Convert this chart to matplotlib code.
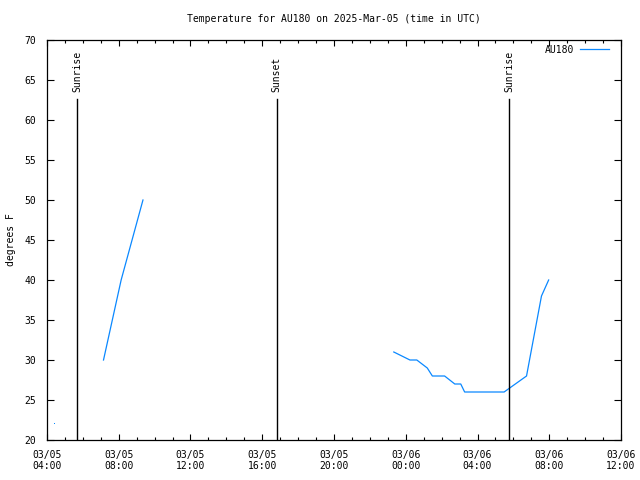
import matplotlib
matplotlib.use("Agg")
import matplotlib.pyplot as plt
import matplotlib.dates as mdates
import numpy as np
import pandas as pd

# temperature readings (UTC), gaps marked with None
times = ["2025-03-05 07:09", "2025-03-05 08:08", "2025-03-05 09:21", None,
         "2025-03-05 23:20", "2025-03-06 00:14", "2025-03-06 00:37", "2025-03-06 01:12",
         "2025-03-06 01:29", "2025-03-06 02:10", "2025-03-06 02:44", "2025-03-06 03:04",
         "2025-03-06 03:17", "2025-03-06 05:29", "2025-03-06 06:44", "2025-03-06 07:34",
         "2025-03-06 07:58"]
temps = [30, 40, 50, None,
         31, 30, 30, 29,
         28, 28, 27, 27,
         26, 26, 28, 38,
         40]
lone_time = ["2025-03-05 04:23"]
lone_temp = [22]

events = ["Sunrise", "Sunset", "Sunrise"]
event_times = ["2025-03-05 05:41", "2025-03-05 16:48", "2025-03-06 05:45"]

x_start = "2025-03-05 04:00"
x_end = "2025-03-06 12:00"

plt.rcParams["font.family"] = "DejaVu Sans Mono"
plt.rcParams["font.size"] = 7

color = "#0a88ff"

fig = plt.figure(figsize=(6.4, 4.8), dpi=100)
ax = fig.add_axes([47 / 640, 40 / 480, 574 / 640, 400 / 480])

# split at the None gap so each segment is drawn on its own
segs = []
cur_t, cur_v = [], []
for s, val in zip(times, temps):
    if s is None:
        segs.append((cur_t, cur_v))
        cur_t, cur_v = [], []
    else:
        cur_t.append(pd.Timestamp(s).to_pydatetime())
        cur_v.append(val)
segs.append((cur_t, cur_v))
for i, (st, sv) in enumerate(segs):
    ax.plot(st, sv, color=color, lw=0.9, label="AU180" if i == 0 else None)
ax.plot([pd.Timestamp(s).to_pydatetime() for s in lone_time], lone_temp, ",", color=color)

for name, et in zip(events, event_times):
    et = pd.Timestamp(et).to_pydatetime()
    ax.plot([et, et], [20, 62.6], color="black", lw=1.0)
    ax.text(et, 63.5, name, rotation=90, ha="center", va="bottom")

ax.set_xlim(pd.Timestamp(x_start).to_pydatetime(), pd.Timestamp(x_end).to_pydatetime())
ax.set_ylim(20, 70)
ax.set_yticks(range(20, 71, 5))

ax.xaxis.set_major_locator(mdates.HourLocator(byhour=range(0, 24, 4)))
ax.xaxis.set_minor_locator(mdates.HourLocator())
ax.xaxis.set_major_formatter(mdates.DateFormatter("%m/%d\n%H:%M"))

ax.tick_params(which="both", direction="in", top=True, right=True, width=0.8)
ax.tick_params(which="major", length=4)
ax.tick_params(which="minor", length=2)
ax.tick_params(axis="x", pad=7)
ax.tick_params(axis="y", pad=8, length=5)
for sp in ax.spines.values():
    sp.set_linewidth(0.9)

ax.set_ylabel("degrees F", labelpad=6)
ax.set_title("Temperature for AU180 on 2025-Mar-05 (time in UTC)", pad=13, fontsize=7)

ax.legend(loc="upper right", bbox_to_anchor=(1 - 7 / 574, 1), frameon=False,
          markerfirst=False, handlelength=3.0, handletextpad=0.6,
          borderaxespad=0.3, borderpad=0.2)

fig.canvas.draw()
for lab in ax.get_xticklabels():
    lab.set_linespacing(1.15)

fig.savefig("out.png", dpi=100)
